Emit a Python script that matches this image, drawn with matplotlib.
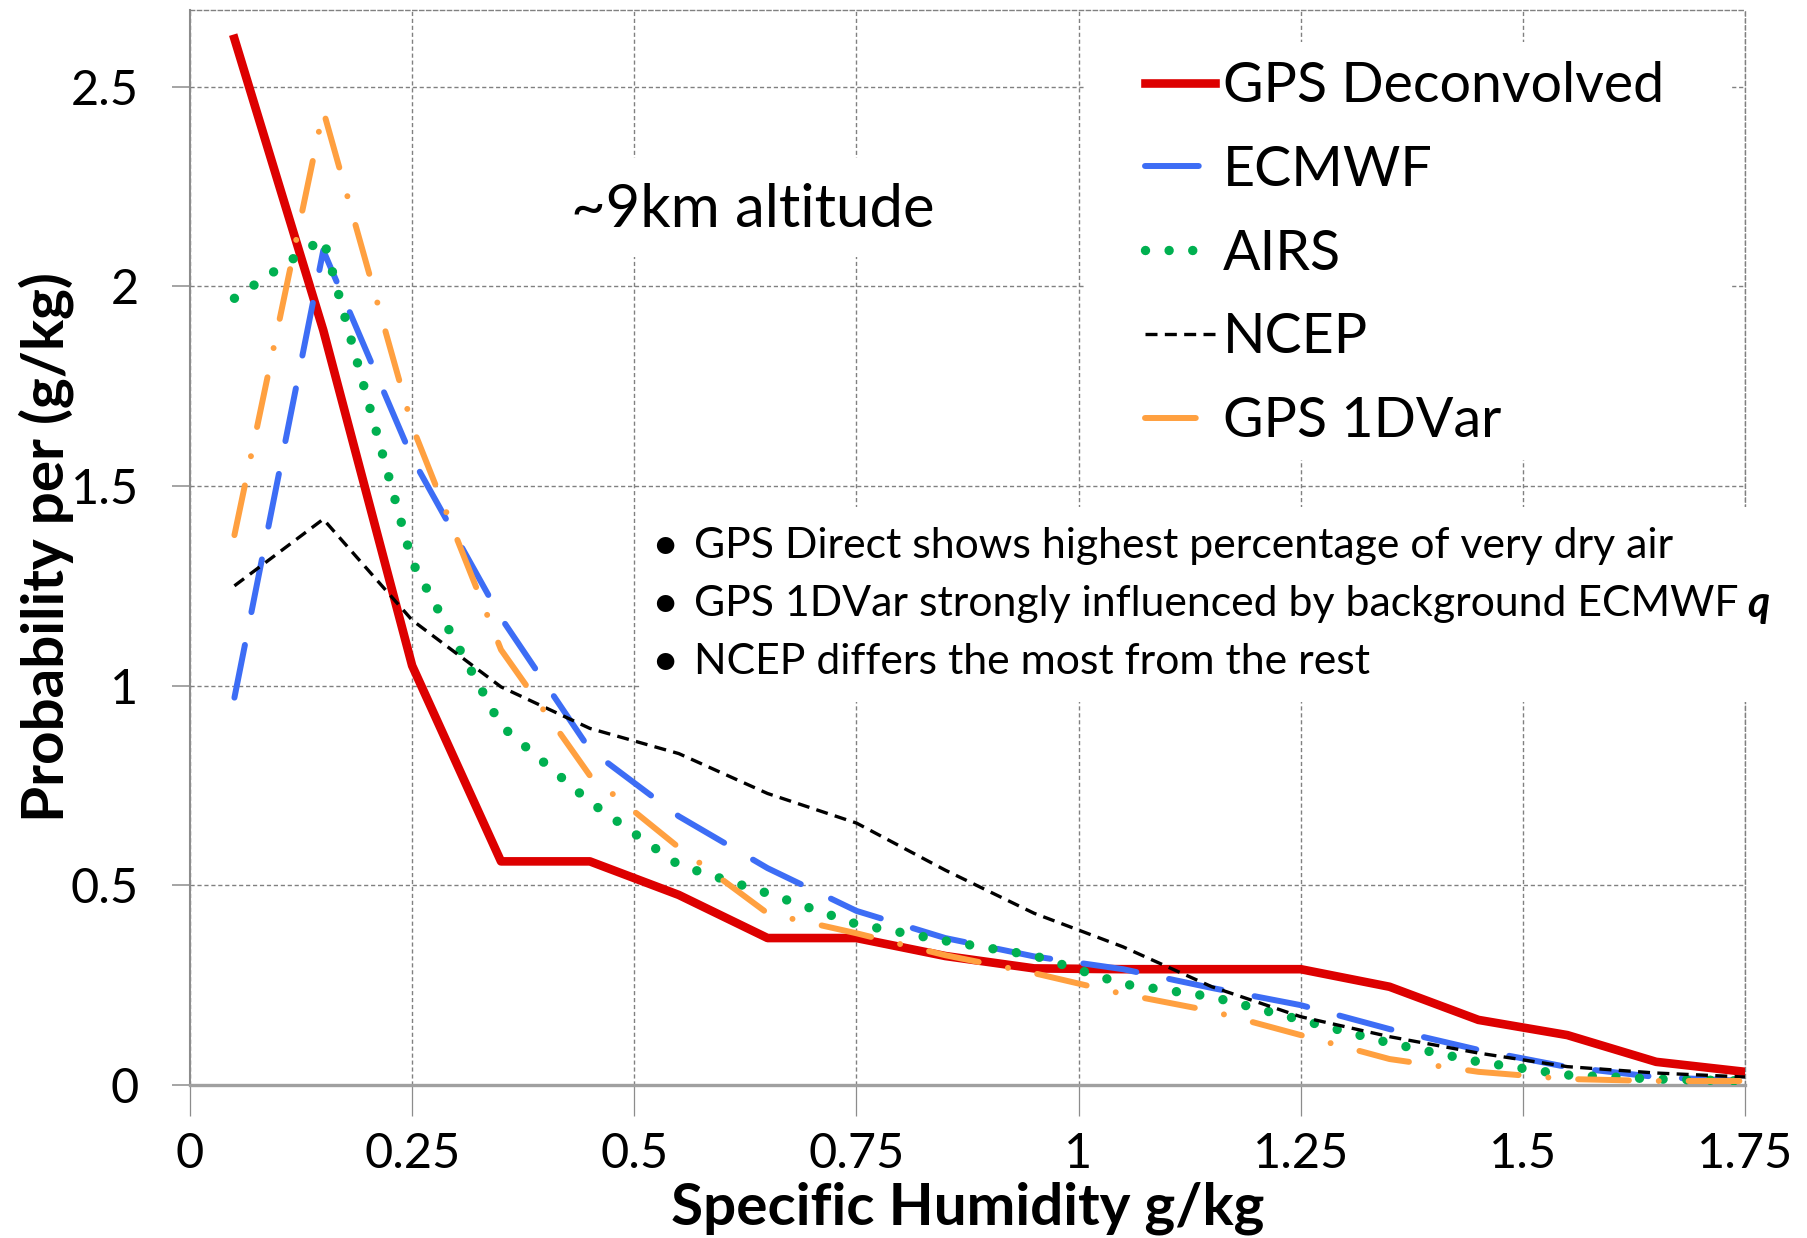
import matplotlib
matplotlib.use("Agg")
import matplotlib.pyplot as plt
from matplotlib.patches import Rectangle
from matplotlib.ticker import FixedLocator, FixedFormatter

plt.rcParams['font.family'] = ['Lato', 'DejaVu Sans']

# ---------------- data ----------------
x = [0.05, 0.15, 0.25, 0.35, 0.45, 0.55, 0.65, 0.75, 0.85,
     0.95, 1.05, 1.15, 1.25, 1.35, 1.45, 1.55, 1.65, 1.75]
gps_deconvolved = [2.62, 1.89, 1.05, 0.56, 0.56, 0.476, 0.368, 0.368, 0.323,
                   0.292, 0.29, 0.29, 0.29, 0.246, 0.163, 0.125, 0.058, 0.033]
ecmwf = [0.97, 2.09, 1.57, 1.17, 0.84, 0.673, 0.543, 0.436, 0.368,
         0.322, 0.29, 0.243, 0.2, 0.14, 0.088, 0.045, 0.02, 0.01]
airs = [1.97, 2.12, 1.31, 0.90, 0.709, 0.551, 0.48, 0.403, 0.361,
        0.324, 0.253, 0.221, 0.163, 0.105, 0.058, 0.025, 0.015, 0.01]
ncep = [1.25, 1.417, 1.164, 0.997, 0.893, 0.83, 0.73, 0.656, 0.538,
        0.43, 0.346, 0.246, 0.171, 0.121, 0.08, 0.046, 0.03, 0.02]
gps_1dvar = [1.377, 2.44, 1.65, 1.09, 0.775, 0.595, 0.43, 0.38, 0.325,
             0.28, 0.228, 0.185, 0.125, 0.065, 0.033, 0.015, 0.01, 0.01]

series_names = ['GPS Deconvolved', 'ECMWF', 'AIRS', 'NCEP', 'GPS 1DVar']

xticks = [0, 0.25, 0.5, 0.75, 1.0, 1.25, 1.5, 1.75]
xticklabels = ['0', '0.25', '0.5', '0.75', '1', '1.25', '1.5', '1.75']
yticks = [0, 0.5, 1.0, 1.5, 2.0, 2.5]
yticklabels = ['0', '0.5', '1', '1.5', '2', '2.5']

title_note = '~9km altitude'
bullets = ['GPS Direct shows highest percentage of very dry air',
           'GPS 1DVar strongly influenced by background ECMWF',
           'NCEP differs the most from the rest']
xlabel = 'Specific Humidity g/kg'
ylabel = 'Probability per (g/kg)'

# ---------------- layout ----------------
W, H = 1808, 1238
fig = plt.figure(figsize=(W / 100, H / 100), dpi=100)
ax_left, ax_right, ax_bottom, ax_top = 190, 1745, 1085, 10
ax = fig.add_axes([ax_left / W, 1 - ax_bottom / H,
                   (ax_right - ax_left) / W, (ax_bottom - ax_top) / H])
ax.set_xlim(0, 1.75)
ax.set_ylim(0, 2.692)

grid_col = '#808080'
ax.set_axisbelow(True)
ax.grid(True, color=grid_col, lw=1.0, linestyle=(0, (3, 2)))

for s in ['top', 'right']:
    ax.spines[s].set_color(grid_col)
    ax.spines[s].set_linestyle((0, (3, 2)))
    ax.spines[s].set_linewidth(1.0)
ax.spines['left'].set_color('#8c8c8c')
ax.spines['left'].set_linewidth(1.5)
ax.spines['bottom'].set_color('#a0a0a0')
ax.spines['bottom'].set_linewidth(2.4)

ax.xaxis.set_major_locator(FixedLocator(xticks))
ax.xaxis.set_major_formatter(FixedFormatter(xticklabels))
ax.yaxis.set_major_locator(FixedLocator(yticks))
ax.yaxis.set_major_formatter(FixedFormatter(yticklabels))
ax.tick_params(axis='y', direction='out', length=13, width=1.1,
               color='#8c8c8c', pad=24, labelsize=35)
ax.tick_params(axis='x', direction='out', length=22, width=0.9,
               color='#8c8c8c', pad=12, labelsize=35)

# ---------------- series ----------------
l1, = ax.plot(x, gps_deconvolved, color='#DD0000', lw=6.2,
              solid_joinstyle='round', zorder=3, label=series_names[0])
l2, = ax.plot(x, ecmwf, color='#3D6DF5', lw=4.3, dashes=(9.0, 5.6),
              dash_capstyle='round', zorder=4, label=series_names[1])
l3, = ax.plot(x, airs, color='#00B050', lw=6.8, dashes=(0.001, 2.5),
              dash_capstyle='round', zorder=5, label=series_names[2])
l4, = ax.plot(x, ncep, color='black', lw=2.4, dashes=(3.6, 2.2),
              zorder=6, label=series_names[3])
l5, = ax.plot(x, gps_1dvar, color='#FFA040', lw=4.3,
              dashes=(8.5, 5.0, 0.001, 5.0), dash_capstyle='round',
              zorder=7, label=series_names[4])

# axis labels
ax.set_xlabel(xlabel, fontsize=42, fontweight='bold', va='center')
ax.xaxis.set_label_coords(0.5, (ax_bottom - 1208) / (ax_bottom - ax_top))
ax.set_ylabel(ylabel, fontsize=42, fontweight='bold', va='center', ha='center')
ax.yaxis.set_label_coords((46 - ax_left) / (ax_right - ax_left), 0.5)

# ---------------- white background boxes (layout) ----------------
def fig_box(x0, y0, x1, y1):
    r = Rectangle((x0 / W, 1 - y1 / H), (x1 - x0) / W, (y1 - y0) / H,
                  transform=fig.transFigure, facecolor='white',
                  edgecolor='none', zorder=2)
    fig.patches.append(r)

fig_box(1085, 42, 1732, 460)   # legend
fig_box(640, 507, 1808, 702)   # bullet notes
fig_box(555, 158, 945, 257)    # altitude note

# ---------------- legend ----------------
leg = fig.legend(handles=[l1, l2, l3, l4, l5], labels=series_names,
                 loc='upper left', bbox_to_anchor=(1145 / W, 1 - 61 / H),
                 bbox_transform=fig.transFigure, frameon=False,
                 fontsize=40, handlelength=1.26, handletextpad=0.14,
                 labelspacing=0.59, borderpad=0, borderaxespad=0)
leg.set_zorder(5)

# ---------------- annotations ----------------
fig.text(571 / W, 1 - 210 / H, title_note, fontsize=43, ha='left',
         va='center', zorder=5)

ys = [546, 604, 662]
texts = []
for yy, t in zip(ys, bullets):
    fig.text(665 / W, 1 - yy / H, '\u2022', fontsize=34, ha='center',
             va='center', zorder=5)
    texts.append(fig.text(694 / W, 1 - yy / H, t, fontsize=30.8, ha='left',
                          va='center', zorder=5))

fig.canvas.draw()
bb = texts[1].get_window_extent()
fig.text((bb.x1 + 9) / W, 1 - ys[1] / H, 'q', fontsize=30.8,
         fontweight='bold', style='italic', ha='left', va='center', zorder=5)

fig.savefig('out.png', dpi=100)
